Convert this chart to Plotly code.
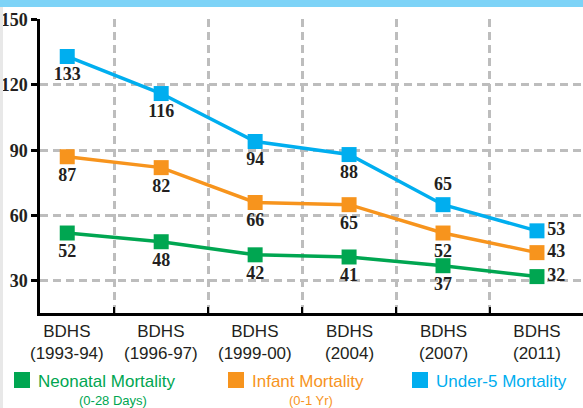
import plotly.graph_objects as go

# Data
surveys = ["BDHS<br>(1993-94)", "BDHS<br>(1996-97)", "BDHS<br>(1999-00)",
           "BDHS<br>(2004)", "BDHS<br>(2007)", "BDHS<br>(2011)"]
neonatal = [52, 48, 42, 41, 37, 32]
infant = [87, 82, 66, 65, 52, 43]
under5 = [133, 116, 94, 88, 65, 53]

GREEN = "#00a651"
ORANGE = "#f7941d"
BLUE = "#00aeef"
INK = "#231f20"
GRID = "#bdbdbd"

W, H = 583, 408
L, T, B = 40, 19, 95
PW, PH = W - L, H - T - B


def px_x(p):
    return (p - L) / PW


def px_y(p):
    return (H - B - p) / PH


xs = list(range(len(surveys)))
label_font = dict(family="Liberation Serif", size=18, color=INK)

fig = go.Figure()


def add_series(vals, color, name, positions):
    fig.add_trace(go.Scatter(
        x=xs, y=vals, mode="lines+markers+text",
        line=dict(color=color, width=3.5),
        marker=dict(symbol="square", size=15, color=color),
        text=[f"<b>{v}</b>" for v in vals],
        textposition=positions,
        textfont=label_font,
        name=name, showlegend=False, cliponaxis=False,
    ))


add_series(neonatal, GREEN, "Neonatal", ["bottom center"] * 5 + ["middle right"])
add_series(infant, ORANGE, "Infant", ["bottom center"] * 5 + ["middle right"])
add_series(under5, BLUE, "Under-5", ["bottom center"] * 4 + ["top center", "middle right"])

# x labels under each survey
annotations = []
for i, s in enumerate(surveys):
    annotations.append(dict(
        x=i, y=px_y(320), xref="x", yref="paper", text=s, showarrow=False,
        yanchor="top", xanchor="center", align="center",
        font=dict(family="Liberation Sans", size=17, color=INK)))

# custom legend
legend_items = [
    (14, "Neonatal Mortality", "(0-28 Days)", GREEN, 113),
    (228, "Infant Mortality", "(0-1 Yr)", ORANGE, 311),
    (412, "Under-5 Mortality", None, BLUE, None),
]
shapes = []
for x0, title, sub, col, subx in legend_items:
    shapes.append(dict(type="rect", xref="paper", yref="paper",
                       x0=px_x(x0), x1=px_x(x0 + 16), y0=px_y(388), y1=px_y(372),
                       fillcolor=col, line=dict(width=0)))
    annotations.append(dict(x=px_x(x0 + 22), y=px_y(381), xref="paper", yref="paper",
                            text=title, showarrow=False, xanchor="left", yanchor="middle",
                            font=dict(family="Liberation Sans", size=17, color=col)))
    if sub:
        annotations.append(dict(x=px_x(subx), y=px_y(400), xref="paper", yref="paper",
                                text=sub, showarrow=False, xanchor="center", yanchor="middle",
                                font=dict(family="Liberation Sans", size=13, color=col)))

# top blue band and left grey strip
shapes.append(dict(type="rect", xref="paper", yref="paper", layer="above",
                   x0=px_x(0), x1=px_x(W), y0=px_y(7), y1=px_y(0),
                   fillcolor="#7dd3f7", line=dict(width=0)))
shapes.append(dict(type="rect", xref="paper", yref="paper", layer="above",
                   x0=px_x(0), x1=px_x(3), y0=px_y(H), y1=px_y(7),
                   fillcolor="#e8e8e8", line=dict(width=0)))

fig.update_layout(
    width=W, height=H,
    margin=dict(l=L, r=0, t=T, b=B),
    plot_bgcolor="white", paper_bgcolor="white",
    showlegend=False,
    xaxis=dict(range=[-0.29, 5.49], tickvals=[0.5, 1.5, 2.5, 3.5, 4.5],
               ticktext=[""] * 5, showgrid=True, gridcolor=GRID, gridwidth=2.5,
               griddash="8px,5px", ticks="inside", ticklen=6, tickwidth=2,
               tickcolor="black", showline=True, linecolor="black", linewidth=2.5,
               zeroline=False, automargin=False),
    yaxis=dict(range=[15.3, 150.2], tickvals=[30, 60, 90, 120, 150],
               ticktext=[f"<b>{v}</b>" for v in [30, 60, 90, 120, 150]],
               tickfont=label_font, showgrid=True, gridcolor=GRID, gridwidth=2.5,
               griddash="8px,5px", ticks="outside", ticklen=6, tickwidth=2.5,
               tickcolor="black", showline=True, linecolor="black", linewidth=2.5,
               zeroline=False, automargin=False),
    shapes=shapes,
    annotations=annotations,
)

# drop the page's default body margin so the figure sits at the window corner
fig.write_html("out.html", config={"displayModeBar": False},
               post_script="document.body.style.margin='0px';")
